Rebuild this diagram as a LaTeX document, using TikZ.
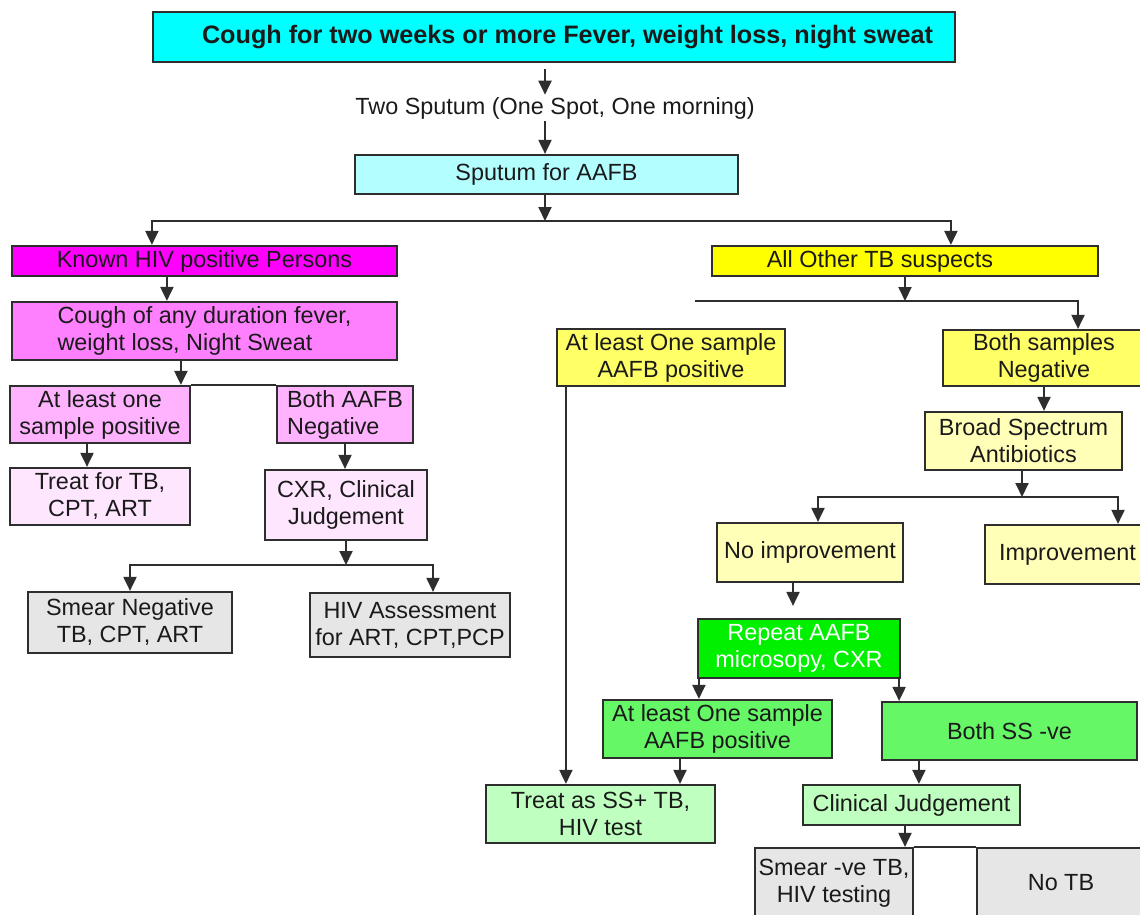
\documentclass[tikz,border=0pt]{standalone}
\usepackage{fontspec}
\setmainfont{Liberation Sans}
\usepackage{xcolor}
\usetikzlibrary{arrows.meta}

\definecolor{cianoA}{HTML}{00FFFF}
\definecolor{cianoB}{HTML}{B3FFFF}
\definecolor{magA}{HTML}{FF00FF}
\definecolor{magB}{HTML}{FF80FF}
\definecolor{magC}{HTML}{FFB3FF}
\definecolor{magD}{HTML}{FFE6FF}
\definecolor{cinza}{HTML}{E6E6E6}
\definecolor{amarA}{HTML}{FFFF00}
\definecolor{amarB}{HTML}{FFFF66}
\definecolor{amarC}{HTML}{FFFFB8}
\definecolor{verdeA}{HTML}{00F000}
\definecolor{verdeB}{HTML}{66F766}
\definecolor{verdeC}{HTML}{BFFFBF}
\definecolor{borda}{HTML}{2E2E2E}
\definecolor{texto}{HTML}{1A1A1A}

\tikzset{
  caixa/.style={draw=borda, line width=1.1pt, align=center, inner sep=1pt,
    text=texto, font=\fontsize{11.7}{13.5}\selectfont},
  seta/.style={draw=borda, line width=1pt, -{Triangle[length=7pt,width=6.5pt]}},
  linha/.style={draw=borda, line width=1pt},
}

\begin{document}
\begin{tikzpicture}[x=0.5pt,y=-0.5pt]
\useasboundingbox (0,0) rectangle (1140,915);

% Topo
\node[caixa, fill=cianoA, font=\fontsize{12.6}{14}\selectfont\bfseries,
  minimum width=401pt, minimum height=25pt] (tosse) at (554,37)
  {\hspace*{13.5pt}Cough for two weeks or more Fever, weight loss, night sweat};
\node[text=texto, font=\fontsize{11.7}{13.5}\selectfont, inner sep=1pt] (duas) at (555,108)
  {Two Sputum (One Spot, One morning)};
\node[caixa, fill=cianoB, minimum width=191.5pt, minimum height=19.5pt] (baar) at (546.5,174.5)
  {Sputum for AAFB};

\draw[seta, shorten <=3pt] ([xshift=-5pt]duas.north |- tosse.south) -- ([xshift=-5pt]duas.north);
\draw[seta] ([xshift=-5pt]duas.south) -- ([xshift=-5pt]duas.south |- baar.north);

% Ramo HIV positivo
\node[caixa, fill=magA, minimum width=192.5pt, minimum height=15pt] (hiv) at (204.5,261)
  {Known HIV positive Persons};
\node[caixa, fill=magB, align=left, minimum width=192.5pt, minimum height=29pt] (qualquer) at (204.5,331)
  {Cough of any duration fever,\\weight loss, Night Sweat};
\node[caixa, fill=magC, minimum width=90pt, minimum height=28.5pt] (umpos) at (100,414.5)
  {At least one\\sample positive};
\node[caixa, fill=magC, align=left, minimum width=68pt, minimum height=28.5pt] (ambosneg) at (345,414.5)
  {Both AAFB\\Negative};
\node[caixa, fill=magD, minimum width=90pt, minimum height=28.5pt] (tratar) at (100,496.5)
  {Treat for TB,\\CPT, ART};
\node[caixa, fill=magD, minimum width=81pt, minimum height=35pt] (cxr) at (346,505)
  {CXR, Clinical\\Judgement};
\node[caixa, fill=cinza, minimum width=102pt, minimum height=30.5pt] (esfneg) at (130,622.5)
  {Smear Negative\\TB, CPT, ART};
\node[caixa, fill=cinza, minimum width=100pt, minimum height=32pt] (avalia) at (410,625)
  {HIV Assessment\\for ART, CPT,PCP};

% Ramo outros suspeitos
\node[caixa, fill=amarA, minimum width=193pt, minimum height=15pt] (outros) at (905,261)
  {All Other TB suspects\hspace*{25pt}};
\node[caixa, fill=amarB, minimum width=114pt, minimum height=28.5pt] (amostrapos) at (671,357.5)
  {At least One sample\\AAFB positive};
\node[caixa, fill=amarB, minimum width=101pt, minimum height=28pt] (amostrasneg) at (1044,358)
  {Both samples\\Negative};
\node[caixa, fill=amarC, minimum width=98.5pt, minimum height=29pt] (antib) at (1023.5,441)
  {Broad Spectrum\\Antibiotics};
\node[caixa, fill=amarC, minimum width=93pt, minimum height=29.5pt] (semmelhora) at (810,552.5)
  {No improvement};
\node[caixa, fill=amarC, minimum width=82.5pt, minimum height=29.5pt] (melhora) at (1067.5,554.5)
  {Improvement};
\node[caixa, fill=verdeA, text=white, minimum width=101pt, minimum height=29.5pt] (repetir) at (799,648.5)
  {Repeat AAFB\\microsopy, CXR};
\node[caixa, fill=verdeB, minimum width=114.5pt, minimum height=29pt] (verdepos) at (717.5,729)
  {At least One sample\\AAFB positive};
\node[caixa, fill=verdeB, minimum width=127.5pt, minimum height=29pt] (ssneg) at (1009.5,731)
  {Both SS -ve};
\node[caixa, fill=verdeC, minimum width=114.5pt, minimum height=29pt] (tratarss) at (600.5,814)
  {Treat as SS+ TB,\\HIV test};
\node[caixa, fill=verdeC, minimum width=108.5pt, minimum height=20pt] (clinico) at (911.5,805)
  {Clinical Judgement};
\node[caixa, fill=cinza, minimum width=79pt, minimum height=35pt] (esfve) at (834,883)
  {Smear -ve TB,\\HIV testing};
\node[caixa, fill=cinza, minimum width=84pt, minimum height=35pt] (semtb) at (1061,883)
  {No TB};

% Divisao principal
\coordinate (div1) at (545,221);
\draw[seta] (baar.south -| div1) -- (div1);
\draw[seta] (div1) -| ([xshift=70.5pt]hiv.north west);
\draw[seta] (div1) -| ([xshift=120pt]outros.north west);

% Setas do ramo HIV
\draw[seta] ([xshift=78pt]hiv.south west) -- ([xshift=78pt]qualquer.north west);
\draw[seta] ([xshift=85pt]qualquer.south west) coordinate (c1) -- (c1 |- umpos.north);
\draw[linha] (umpos.north east) -- (ambosneg.north west);
\draw[seta] ([xshift=-6.5pt]umpos.south) -- ([xshift=-6.5pt]tratar.north);
\draw[seta] (ambosneg.south) -- (ambosneg.south |- cxr.north);
\coordinate (div2) at (346,565);
\draw[seta] (cxr.south) -- (div2);
\draw[seta] (div2) -| (esfneg.north);
\draw[seta] (div2) -| ([xshift=11.5pt]avalia.north);

% Setas do ramo outros
\coordinate (div3) at (905,301);
\coordinate (div3w) at (695,301);
\draw[seta] (outros.south) -- (div3);
\draw[linha] (div3w) -- (div3);
\draw[seta] (div3) -| ([xshift=17pt]amostrasneg.north);
\draw[seta] ([xshift=5pt]amostrapos.south west) coordinate (c2) -- (c2 |- tratarss.north);
\draw[seta] (amostrasneg.south) -- (amostrasneg.south |- antib.north);
\coordinate (div4) at (1022,497);
\draw[seta] (antib.south -| div4) -- (div4);
\draw[seta] (div4) -| ([xshift=4pt]semmelhora.north);
\draw[seta] (div4) -| ([xshift=25.25pt]melhora.north);
\draw[seta, shorten >=6pt] ([xshift=-8.5pt]semmelhora.south) coordinate (c3) -- (c3 |- repetir.north);
\draw[seta] ([xshift=1pt]repetir.south west) coordinate (c4) -- (c4 |- verdepos.north);
\draw[seta] ([xshift=-1pt]repetir.south east) coordinate (c5) -- (c5 |- ssneg.north);
\draw[seta] ([xshift=-18.75pt]verdepos.south) coordinate (c6) -- (c6 |- tratarss.north);
\draw[seta] ([xshift=19pt]ssneg.south west) coordinate (c7) -- (c7 |- clinico.north);
\draw[seta] ([xshift=-3.25pt]clinico.south) coordinate (c8) -- (c8 |- esfve.north);
\draw[linha] (esfve.north east) -- (semtb.north west);

\end{tikzpicture}
\end{document}
